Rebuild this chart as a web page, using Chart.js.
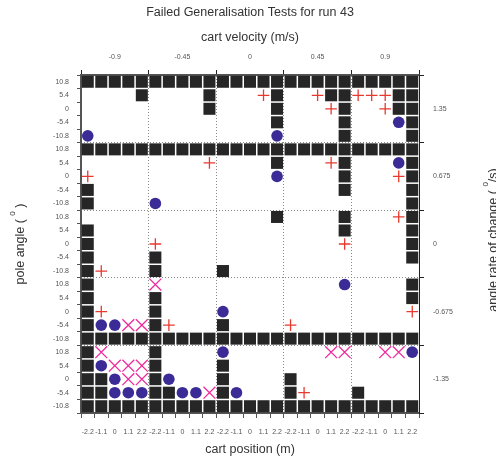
<!DOCTYPE html>
<html>
<head>
<meta charset="utf-8">
<script src="https://cdn.jsdelivr.net/npm/chart.js@4.4.0/dist/chart.umd.min.js"></script>
<style>
  html, body { margin: 0; padding: 0; background: #fff; }
  #chart { display: block; }
</style>
</head>
<body>
<canvas id="chart" width="496" height="459"></canvas>
<script>
const FONT = '"Liberation Sans", Arial, Helvetica, sans-serif';

const velLabels = ['-0.9', '-0.45', '0', '0.45', '0.9'];
const posLabels = ['-2.2', '-1.1', '0', '1.1', '2.2'];
const rateLabels = ['1.35', '0.675', '0', '-0.675', '-1.35'];
const angleLabels = ['10.8', '5.4', '0', '-5.4', '-10.8'];

// Test outcomes per angle rate band. One string per pole angle (10.8 .. -10.8),
// one group per cart velocity, one char per cart position (-2.2 .. 2.2).
// '#' square, '+' plus, 'x' cross, 'o' dot, '.' nothing
const rate135 = [
  '##### ##### ##### ##### #####',
  '....# ....# ...+# ..+## +++##',
  '..... ....# ....# ...+# ..+##',
  '..... ..... ....# ....# ...o#',
  'o.... ..... ....o ....# ....#',
];
const rate0675 = [
  '##### ##### ##### ##### #####',
  '..... ....+ ....# ...+# ...o#',
  '+.... ..... ....o ....# ...+#',
  '#.... ..... ..... ....# ....#',
  '#.... o.... ..... ..... ....#',
];
const rate0 = [
  '..... ..... ....# ....# ...+#',
  '#.... ..... ..... ....# ....#',
  '#.... +.... ..... ....+ ....#',
  '#.... #.... ..... ..... ....#',
  '#+... #.... #.... ..... .....',
];
const rateM0675 = [
  '#.... x.... ..... ....o ....#',
  '#.... #.... ..... ..... ....#',
  '#+... #.... o.... ..... ....+',
  '#ooxx #+... #.... +.... .....',
  '##### ##### ##### ##### #####',
];
const rateM135 = [
  '#x... #.... o.... ...xx ..xxo',
  '#oxxx #.... #.... ..... .....',
  '##oxx #o... #.... #.... .....',
  '##ooo ##oox #o... #+... #....',
  '##### ##### ##### ##### #####',
];

const markers = {
  '#': { style: 'rect', color: '#262626', radius: 8.5, width: 0 },
  '+': { style: 'cross', color: '#e8392e', radius: 5.8, width: 1.3 },
  'x': { style: 'crossRot', color: '#ee2a9c', radius: 8.4, width: 1.3 },
  'o': { style: 'circle', color: '#3a2b97', radius: 5.8, width: 0 },
};

const points = { '#': [], '+': [], 'x': [], 'o': [] };
[rate135, rate0675, rate0, rateM0675, rateM135].forEach((band, b) => {
  band.forEach((line, a) => {
    line.replace(/ /g, '').split('').forEach((ch, c) => {
      if (points[ch]) points[ch].push({ x: c, y: b * 5 + a });
    });
  });
});

const datasets = Object.keys(markers).map(k => ({
  data: points[k],
  pointStyle: markers[k].style,
  pointRadius: markers[k].radius,
  pointBorderWidth: markers[k].width,
  pointBackgroundColor: markers[k].color,
  pointBorderColor: markers[k].color,
  showLine: false,
}));

// cells are 1 unit wide, labels sit in the middle, tick marks on the edges
const cellCentres = Array.from({ length: 25 }, (_, i) => i);
const cellEdges = Array.from({ length: 26 }, (_, i) => i - 0.5);
const bandCentres = [2, 7, 12, 17, 22];
const bandEdges = [-0.5, 4.5, 9.5, 14.5, 19.5, 24.5];

const isEdge = v => !Number.isInteger(v);
const isInnerEdge = v => isEdge(v) && v > 0 && v < 24;
const setTicks = values => scale => {
  scale.ticks = values.slice().sort((p, q) => p - q).map(v => ({ value: v }));
};
const NONE = 'rgba(0,0,0,0)';
const tickFont = { family: FONT, size: 7 };

function drawLabel(ctx, x, y, parts) {
  // rotated label, every second part is a superscript
  const big = `12.5px ${FONT}`, small = `8px ${FONT}`;
  ctx.save();
  ctx.translate(x, y);
  ctx.rotate(-Math.PI / 2);
  ctx.textAlign = 'left';
  ctx.textBaseline = 'middle';
  const widths = parts.map((t, i) => {
    ctx.font = i % 2 ? small : big;
    return ctx.measureText(t).width;
  });
  let pos = -widths.reduce((s, w) => s + w, 0) / 2;
  parts.forEach((t, i) => {
    ctx.font = i % 2 ? small : big;
    ctx.fillText(t, pos, i % 2 ? -8 : 0);
    pos += widths[i];
  });
  ctx.restore();
}

const titles = {
  id: 'titles',
  afterDraw(chart) {
    const { ctx, chartArea } = chart;
    const cx = (chartArea.left + chartArea.right) / 2;
    const cy = (chartArea.top + chartArea.bottom) / 2;
    ctx.save();
    ctx.fillStyle = '#333';
    ctx.textAlign = 'center';
    ctx.textBaseline = 'middle';
    ctx.font = `12.5px ${FONT}`;
    ctx.fillText('Failed Generalisation Tests for run 43', cx, 13);
    ctx.fillText('cart velocity (m/s)', cx, 38);
    ctx.fillText('cart position (m)', cx, 450);
    drawLabel(ctx, 21, cy, ['pole angle ( ', '0', ' )']);
    drawLabel(ctx, 494, 240, ['angle rate of change ( ', '0', '/s)']);
    ctx.restore();
  }
};

new Chart(document.getElementById('chart'), {
  type: 'scatter',
  data: { datasets },
  options: {
    responsive: false,
    animation: false,
    devicePixelRatio: 1,
    layout: { padding: 0 },
    plugins: {
      legend: { display: false },
      title: { display: false },
      tooltip: { enabled: false }
    },
    scales: {
      x: {
        type: 'linear',
        position: 'bottom',
        min: -0.5,
        max: 24.5,
        afterBuildTicks: setTicks([...cellEdges, ...cellCentres]),
        afterFit: s => { s.height = 46; },
        ticks: {
          autoSkip: false, maxRotation: 0, minRotation: 0, padding: 10,
          color: '#555', font: tickFont,
          callback: v => isEdge(v) ? '' : posLabels[v % 5]
        },
        grid: {
          drawOnChartArea: false,
          tickLength: 5,
          tickColor: c => c.tick && isEdge(c.tick.value) ? '#555' : NONE
        },
        border: { color: '#555', width: 2 }
      },
      xT: {
        type: 'linear',
        position: 'top',
        min: -0.5,
        max: 24.5,
        afterBuildTicks: setTicks([...bandEdges, ...bandCentres]),
        afterFit: s => { s.height = 75; },
        ticks: {
          autoSkip: false, maxRotation: 0, minRotation: 0, padding: 9,
          color: '#555', font: tickFont,
          callback: v => isEdge(v) ? '' : velLabels[(v - 2) / 5]
        },
        grid: {
          drawOnChartArea: true,
          tickLength: 5,
          color: c => c.tick && isInnerEdge(c.tick.value) ? '#888' : NONE,
          tickColor: c => c.tick && isEdge(c.tick.value) ? '#222' : NONE
        },
        border: { color: '#555', width: 2, dash: [1, 2] }
      },
      y: {
        type: 'linear',
        position: 'left',
        reverse: true,
        min: -0.5,
        max: 24.5,
        afterBuildTicks: setTicks([...cellEdges, ...cellCentres]),
        afterFit: s => { s.width = 81; },
        ticks: {
          autoSkip: false, padding: 8,
          color: '#555', font: tickFont,
          callback: v => isEdge(v) ? '' : angleLabels[v % 5]
        },
        grid: {
          drawOnChartArea: false,
          tickLength: 4,
          tickColor: c => c.tick && isEdge(c.tick.value) ? '#555' : NONE
        },
        border: { color: '#555', width: 2 }
      },
      yR: {
        type: 'linear',
        position: 'right',
        reverse: true,
        min: -0.5,
        max: 24.5,
        afterBuildTicks: setTicks([...bandEdges, ...bandCentres]),
        afterFit: s => { s.width = 77; },
        ticks: {
          autoSkip: false, padding: 9,
          color: '#555', font: tickFont,
          callback: v => isEdge(v) ? '' : rateLabels[(v - 2) / 5]
        },
        grid: {
          drawOnChartArea: true,
          tickLength: 5,
          color: c => c.tick && isInnerEdge(c.tick.value) ? '#888' : NONE,
          tickColor: c => c.tick && isEdge(c.tick.value) ? '#222' : NONE
        },
        border: { color: '#222', width: 1, dash: [1, 2] }
      }
    }
  },
  plugins: [titles]
});
</script>
</body>
</html>
